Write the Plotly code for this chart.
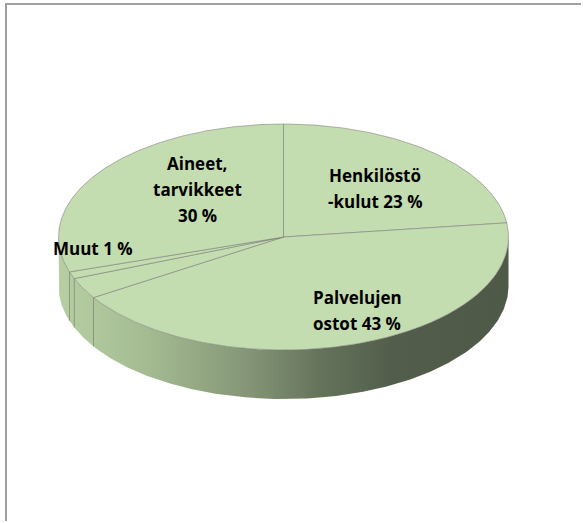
import numpy as np
import plotly.graph_objects as go

# Cost structure shares (%), in clockwise order starting from 12 o'clock
categories = ["Henkilöstökulut", "Palvelujen ostot", "Muut erät", "Muut", "Aineet, tarvikkeet"]
shares = [23, 43, 3, 1, 30]
label_templates = [
    "Henkilöstö<br>-kulut {v} %",
    "Palvelujen<br>ostot {v} %",
    None,
    "Muut {v} %",
    "Aineet,<br>tarvikkeet<br>{v} %",
]

# Pie geometry (pixel space of a 583x523 canvas)
W, H = 583, 523
CX, CY = 283.5, 237.0
RX, RY = 225.0, 113.0
DEPTH = 49.0

TOP_COLOR = "#C4DDB0"
EDGE_COLOR = "rgba(120,120,120,0.55)"
SIDE_SCALE = [
    [0.00, "#B6CFA2"],
    [0.20, "#A4BB91"],
    [0.42, "#849677"],
    [0.58, "#65735B"],
    [0.74, "#525E4B"],
    [1.00, "#4E5A47"],
]

# Label centres (first line) and line pitch
label_pos = {
    0: (375, 175),
    1: (357, 297),
    3: (93, 248),
    4: (197, 163),
}
LINE_PITCH = 26
LABEL_FONT = dict(family="Open Sans", size=17, color="#000000", weight="bold")


def rim(theta_deg, drop=0.0):
    t = np.radians(theta_deg)
    return CX + RX * np.sin(t), CY - RY * np.cos(t) + drop


total = float(sum(shares))
bounds = np.concatenate([[0.0], np.cumsum(shares) / total * 360.0])

fig = go.Figure()

# Chart area frame: top and left edges
fig.add_trace(go.Scatter(
    x=[6, 6, W - 2], y=[H - 2, 4, 4], mode="lines",
    line=dict(color="#A0A0A0", width=2),
    hoverinfo="skip", showlegend=False,
))

# Front side wall (visible between 90 and 270 degrees)
th = np.linspace(90, 270, 241)
xs_top, ys_top = rim(th)
xs_bot, ys_bot = rim(th[::-1], DEPTH)
fig.add_trace(go.Scatter(
    x=np.concatenate([xs_top, xs_bot]),
    y=np.concatenate([ys_top, ys_bot]),
    mode="lines", fill="toself",
    line=dict(width=0, color="rgba(0,0,0,0)"),
    fillgradient=dict(type="horizontal", colorscale=SIDE_SCALE),
    hoverinfo="skip", showlegend=False,
))

# Slice seams on the side wall
for b in bounds[1:-1]:
    if 90 < b < 270:
        x0, y0 = rim(b)
        fig.add_trace(go.Scatter(
            x=[x0, x0], y=[y0, y0 + DEPTH], mode="lines",
            line=dict(width=1, color="rgba(110,120,110,0.6)"),
            hoverinfo="skip", showlegend=False,
        ))

# Top face slices
for i, name in enumerate(categories):
    a0, a1 = bounds[i], bounds[i + 1]
    n = max(4, int((a1 - a0) * 2))
    t = np.linspace(a0, a1, n)
    px, py = rim(t)
    fig.add_trace(go.Scatter(
        x=np.concatenate([[CX], px, [CX]]),
        y=np.concatenate([[CY], py, [CY]]),
        mode="lines", fill="toself", fillcolor=TOP_COLOR,
        line=dict(width=1, color=EDGE_COLOR),
        name=name, hoverinfo="skip", showlegend=False,
    ))

# Data labels, one annotation per text line
for i, tpl in enumerate(label_templates):
    if tpl is None:
        continue
    x, y = label_pos[i]
    for k, line in enumerate(tpl.format(v=shares[i]).split("<br>")):
        fig.add_annotation(
            x=x, y=y + k * LINE_PITCH, xref="x", yref="y", text=line,
            showarrow=False, xanchor="center", yanchor="middle",
            font=LABEL_FONT,
        )

fig.update_layout(
    width=W, height=H,
    margin=dict(l=0, r=0, t=0, b=0),
    paper_bgcolor="white", plot_bgcolor="white",
    xaxis=dict(range=[0, W], visible=False, fixedrange=True),
    yaxis=dict(range=[H, 0], visible=False, fixedrange=True),
)

fig.write_html("out.html")
